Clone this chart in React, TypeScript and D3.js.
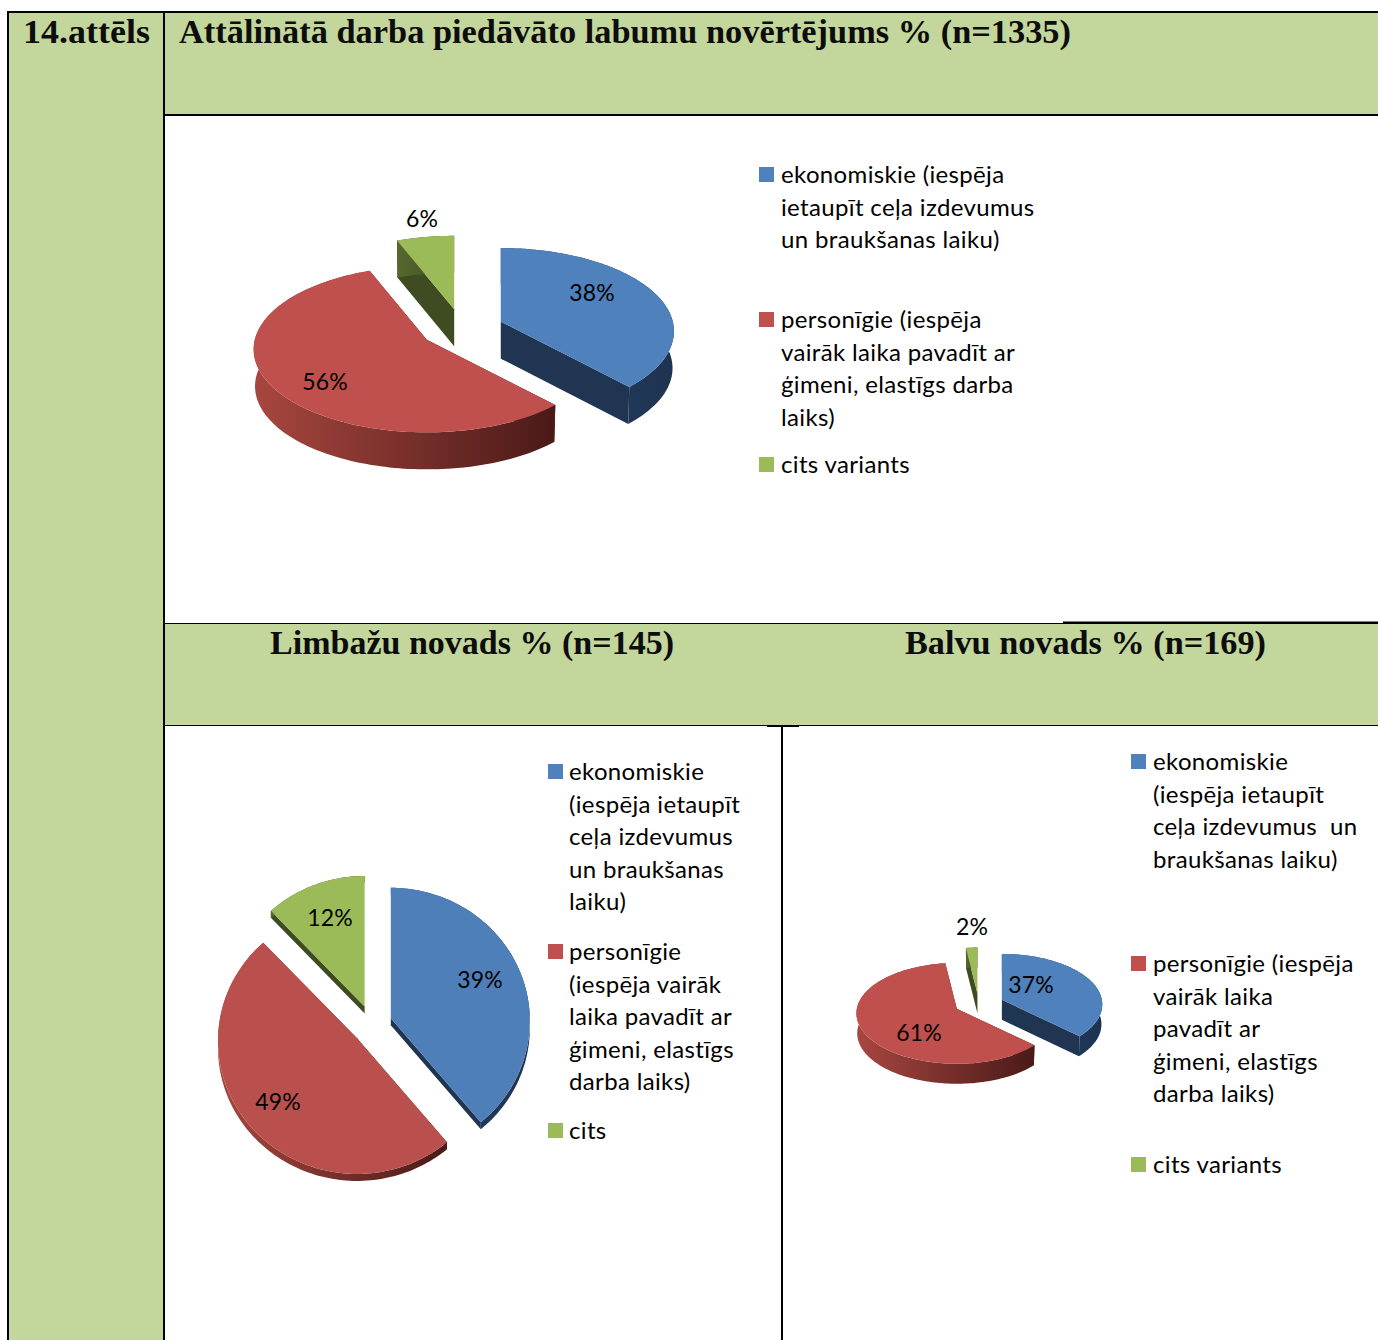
import React, { useEffect, useRef } from 'react';
import * as d3 from 'd3';

const width = 1378;
const height = 1340;

// vērtības no attēla, %
const seriesNames = ['ekonomiskie', 'personigie', 'cits'];
const kopaValues = [38, 56, 6];
const limbaziValues = [39, 49, 12];
const balviValues = [37, 61, 2];

const kopaLegend = [
  ['ekonomiskie (iespēja', 'ietaupīt ceļa izdevumus', 'un braukšanas laiku)'],
  ['personīgie (iespēja', 'vairāk laika pavadīt ar', 'ģimeni, elastīgs darba', 'laiks)'],
  ['cits variants'],
];
const limbaziLegend = [
  ['ekonomiskie', '(iespēja ietaupīt', 'ceļa izdevumus', 'un braukšanas', 'laiku)'],
  ['personīgie', '(iespēja vairāk', 'laika pavadīt ar', 'ģimeni, elastīgs', 'darba laiks)'],
  ['cits'],
];
const balviLegend = [
  ['ekonomiskie', '(iespēja ietaupīt', 'ceļa izdevumus  un', 'braukšanas laiku)'],
  ['personīgie (iespēja', 'vairāk laika', 'pavadīt ar', 'ģimeni, elastīgs', 'darba laiks)'],
  ['cits variants'],
];

const topColors = ['#4f81bd', '#c0504d', '#9bbb59'];
const flatTopColors = ['#4f7fb9', '#ba504e', '#9bbb59'];
const wallColors = ['#1f3552', '#4f1b18', '#3f4c22'];
const rimStops = [
  ['#26436a', '#1e3350'],
  ['#a8463f', '#4a1a17'],
  ['#56682e', '#3f4c22'],
];

// izkārtojums katram grafikam
const charts = [
  {
    id: 'kopa',
    values: kopaValues,
    legend: kopaLegend,
    faces: topColors,
    cx: 462,
    cy: 329,
    rx: 172,
    ry: 82,
    persp: 0.115,
    explodeX: 41.7,
    explodeY: 20,
    depth: 37,
    shrink: 0.008,
    labels: [[592, 292], [325, 381], [422, 218]],
    legendX: 759,
    textX: 781,
    legendBaselines: [183, 328, 473],
  },
  {
    id: 'limbazi',
    values: limbaziValues,
    legend: limbaziLegend,
    faces: flatTopColors,
    cx: 372,
    cy: 1025,
    rx: 139,
    ry: 133,
    persp: 0.02,
    explodeX: 20,
    explodeY: 20,
    depth: 7,
    shrink: 0,
    labels: [[480, 979], [278, 1101], [330, 917]],
    legendX: 548,
    textX: 569,
    legendBaselines: [780, 960, 1139],
  },
  {
    id: 'balvi',
    values: balviValues,
    legend: balviLegend,
    faces: topColors,
    cx: 979,
    cy: 1004,
    rx: 100,
    ry: 50,
    persp: 0.09,
    explodeX: 24.9,
    explodeY: 10.6,
    depth: 20,
    shrink: 0.008,
    labels: [[1031, 984], [919, 1032], [972, 926]],
    legendX: 1131,
    textX: 1153,
    legendBaselines: [770, 972, 1173],
  },
];

const titles = [
  { text: '14.attēls', x: 23, y: 43, w: 127 },
  { text: 'Attālinātā darba piedāvāto labumu novērtējums % (n=1335)', x: 179, y: 43, w: 892 },
  { text: 'Limbažu novads % (n=145)', x: 270, y: 654, w: 404 },
  { text: 'Balvu novads % (n=169)', x: 905, y: 654, w: 361 },
];

const legendFont = 'Lato, Carlito, sans-serif';

export default function App() {
  const svgRef = useRef<SVGSVGElement>(null);

  useEffect(() => {
    const svg = d3.select(svgRef.current);
    svg.selectAll('*').remove();

    // tabulas fons
    const bands = [
      [9, 13, 155, height - 13],
      [164, 13, width - 164, 102],
      [164, 623, width - 164, 103],
    ];
    svg
      .selectAll('rect.band')
      .data(bands)
      .enter()
      .append('rect')
      .attr('class', 'band')
      .attr('x', (d) => d[0])
      .attr('y', (d) => d[1])
      .attr('width', (d) => d[2])
      .attr('height', (d) => d[3])
      .attr('fill', '#c3d69b');

    // tabulas līnijas: x1, y1, x2, y2, biezums
    const rules = [
      [7, 12, width, 12, 2],
      [8, 12, 8, height, 2],
      [164, 12, 164, height, 2],
      [164, 115, width, 115, 2],
      [164, 623.5, width, 623.5, 1],
      [1063, 622.5, width, 622.5, 2],
      [164, 725.5, width, 725.5, 1],
      [767, 726.5, 799, 726.5, 1],
      [782, 726, 782, height, 2],
    ];
    svg
      .selectAll('line.rule')
      .data(rules)
      .enter()
      .append('line')
      .attr('class', 'rule')
      .attr('x1', (d) => d[0])
      .attr('y1', (d) => d[1])
      .attr('x2', (d) => d[2])
      .attr('y2', (d) => d[3])
      .attr('stroke', '#000')
      .attr('stroke-width', (d) => d[4]);

    svg
      .selectAll('text.title')
      .data(titles)
      .enter()
      .append('text')
      .attr('class', 'title')
      .attr('x', (d) => d.x)
      .attr('y', (d) => d.y)
      .attr('textLength', (d) => d.w)
      .attr('lengthAdjust', 'spacingAndGlyphs')
      .attr('font-family', '"Liberation Serif", serif')
      .attr('font-weight', 'bold')
      .attr('font-size', 33)
      .attr('fill', '#0d0d0d')
      .text((d) => d.text);

    const defs = svg.append('defs');
    const pie = d3
      .pie<number>()
      .sort(null)
      .value((d) => d);
    const line = d3.line();

    charts.forEach((chart) => {
      const g = svg.append('g').attr('class', chart.id);

      // perspektīva: tuvākā mala lielāka
      const project = (a: number): [number, number] => {
        const u = Math.sin(a);
        const v = -Math.cos(a);
        const s = 1 / (1 - chart.persp * v);
        return [chart.rx * u * s, chart.ry * v * s];
      };

      pie(chart.values).forEach((slice, i) => {
        const mid = (slice.startAngle + slice.endAngle) / 2;
        const apex: [number, number] = [
          chart.cx + chart.explodeX * Math.sin(mid),
          chart.cy - chart.explodeY * Math.cos(mid),
        ];
        const steps = Math.max(4, Math.ceil((slice.endAngle - slice.startAngle) * 40));
        const arcTop = d3.range(steps + 1).map((k) => {
          const a = slice.startAngle + ((slice.endAngle - slice.startAngle) * k) / steps;
          const p = project(a);
          return [apex[0] + p[0], apex[1] + p[1]] as [number, number];
        });
        // apakšējā mala mazliet šaurāka
        const drop = (p: [number, number]): [number, number] => [
          apex[0] + (p[0] - apex[0]) * (1 - chart.shrink),
          p[1] + chart.depth,
        ];

        // griezuma sienas
        [arcTop[0], arcTop[arcTop.length - 1]].forEach((end) => {
          g.append('path')
            .attr('d', line([apex, end, drop(end), drop(apex)]) + 'Z')
            .attr('fill', wallColors[i]);
        });

        // ārējā mala
        const gradId = `rim-${chart.id}-${seriesNames[i]}`;
        const grad = defs.append('linearGradient').attr('id', gradId);
        grad.append('stop').attr('offset', '0%').attr('stop-color', rimStops[i][0]);
        grad.append('stop').attr('offset', '100%').attr('stop-color', rimStops[i][1]);
        g.append('path')
          .attr('d', line([...arcTop, ...arcTop.map(drop).reverse()]) + 'Z')
          .attr('fill', `url(#${gradId})`);

        // virsma
        g.append('path')
          .attr('d', line([apex, ...arcTop]) + 'Z')
          .attr('fill', chart.faces[i]);
      });

      g.selectAll('text.value')
        .data(chart.values)
        .enter()
        .append('text')
        .attr('class', 'value')
        .attr('x', (d, i) => chart.labels[i][0])
        .attr('y', (d, i) => chart.labels[i][1] + 9)
        .attr('text-anchor', 'middle')
        .attr('font-family', legendFont)
        .attr('font-size', 23)
        .attr('letter-spacing', 0.2)
        .attr('fill', '#000')
        .text((d) => `${d}%`);

      // leģenda
      chart.legend.forEach((lines, i) => {
        g.append('rect')
          .attr('x', chart.legendX)
          .attr('y', chart.legendBaselines[i] - 16)
          .attr('width', 15)
          .attr('height', 15)
          .attr('fill', topColors[i]);
        lines.forEach((t, j) => {
          g.append('text')
            .attr('x', chart.textX)
            .attr('y', chart.legendBaselines[i] + j * 32.6)
            .attr('font-family', legendFont)
            .attr('font-size', 24)
            .attr('letter-spacing', 0.35)
            .style('white-space', 'pre')
            .attr('fill', '#000')
            .text(t);
        });
      });
    });
  }, []);

  return (
    <svg
      ref={svgRef}
      width={width}
      height={height}
      style={{ position: 'absolute', left: 0, top: 0, background: '#fff' }}
    ></svg>
  );
}
